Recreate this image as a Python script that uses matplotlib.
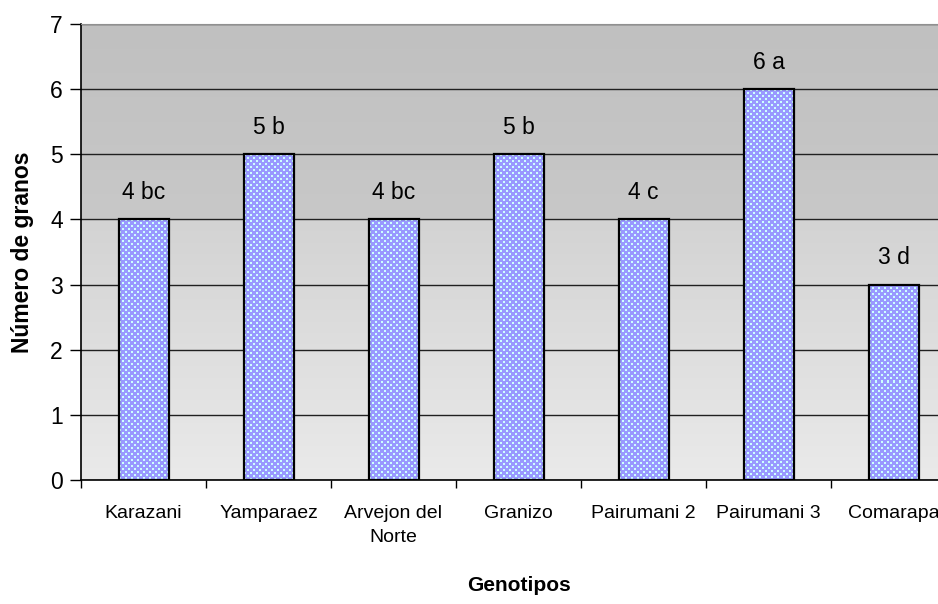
import matplotlib
matplotlib.use("Agg")
import matplotlib.pyplot as plt
import numpy as np
from matplotlib.colors import LinearSegmentedColormap, to_rgb

genotipos = ["Karazani", "Yamparaez", "Arvejon del\nNorte", "Granizo",
             "Pairumani 2", "Pairumani 3", "Comarapa"]
granos = [4, 5, 4, 5, 4, 6, 3]
letras = ["4 bc", "5 b", "4 bc", "5 b", "4 c", "6 a", "3 d"]

plt.rcParams["font.family"] = ["Liberation Sans", "DejaVu Sans"]

fig = plt.figure(figsize=(9.38, 6.04), dpi=100)
ax = fig.add_axes([81 / 938, 1 - 480 / 604, 875 / 938, 456 / 604])

x = np.arange(len(genotipos))
ax.set_xlim(-0.5, len(genotipos) - 0.5)
ax.set_ylim(0, 7)

# gray background: lighter near the base, darker toward the top
cmap = LinearSegmentedColormap.from_list(
    "bg", [(0.0, "#eaeaea"), (0.57, "#d3d3d3"), (0.575, "#c8c8c8"),
           (1.0, "#c0c0c0")])
grad = np.linspace(0, 1, 512).reshape(-1, 1)
ax.imshow(grad, extent=[-0.5, len(genotipos) - 0.5, 0, 7], origin="lower",
          aspect="auto", cmap=cmap, zorder=0, interpolation="bilinear")

ax.yaxis.grid(True, color="#202020", linewidth=1.0, zorder=1)
ax.set_axisbelow(True)

bar_w = 0.4
bars = ax.bar(x, granos, width=bar_w, color="#9999ff", linewidth=0, zorder=2)


def dotted_texture(w_px, h_px, base="#9999ff", dot="#ccffff", period=6):
    """Staggered square-dot fill at screen-pixel resolution."""
    img = np.empty((h_px, w_px, 3))
    img[:] = to_rgb(base)
    yy, xx = np.mgrid[0:h_px, 0:w_px]
    half = period // 2
    a = ((xx % period) < 2) & ((yy % period) < 2)
    b = (((xx + half) % period) < 2) & (((yy + half) % period) < 2)
    img[a | b] = to_rgb(dot)
    return img


# dotted fill clipped to each bar
for rect in bars:
    x0, y0 = rect.get_x(), rect.get_y()
    w, h = rect.get_width(), rect.get_height()
    p0 = ax.transData.transform((x0, y0))
    p1 = ax.transData.transform((x0 + w, y0 + h))
    w_px = int(round(abs(p1[0] - p0[0])))
    h_px = int(round(abs(p1[1] - p0[1])))
    im = ax.imshow(dotted_texture(w_px, h_px), extent=[x0, x0 + w, y0, y0 + h],
                   origin="upper", aspect="auto", interpolation="nearest",
                   zorder=2.5)
    im.set_clip_path(rect)

ax.bar(x, granos, width=bar_w, fill=False, edgecolor="black",
       linewidth=1.6, zorder=3)
ax.set_xlim(-0.5, len(genotipos) - 0.5)
ax.set_ylim(0, 7)

for xi, v, t in zip(x, granos, letras):
    ax.text(xi, v + 0.24, t, ha="center", va="bottom", fontsize=16.5)

ax.set_yticks(range(0, 8))
ax.set_yticklabels([str(i) for i in range(8)], fontsize=16.5)
ax.set_xticks(x)
ax.set_xticklabels(genotipos, fontsize=14, linespacing=1.5)
ax.set_xticks(np.arange(-0.5, len(genotipos), 1), minor=True)
ax.tick_params(axis="x", which="major", length=0, pad=18)
ax.tick_params(axis="x", which="minor", length=6, width=1, direction="out")
ax.tick_params(axis="y", length=8, width=1, direction="out", pad=5)

ax.spines["right"].set_visible(False)
ax.spines["top"].set_color("#909090")
ax.spines["left"].set_linewidth(1.2)
ax.spines["bottom"].set_linewidth(1.2)

ax.set_ylabel("Número de granos", fontsize=16.5, fontweight="bold", labelpad=12)
ax.set_xlabel("Genotipos", fontsize=15, fontweight="bold", labelpad=22)

fig.savefig("out.png", dpi=100)
